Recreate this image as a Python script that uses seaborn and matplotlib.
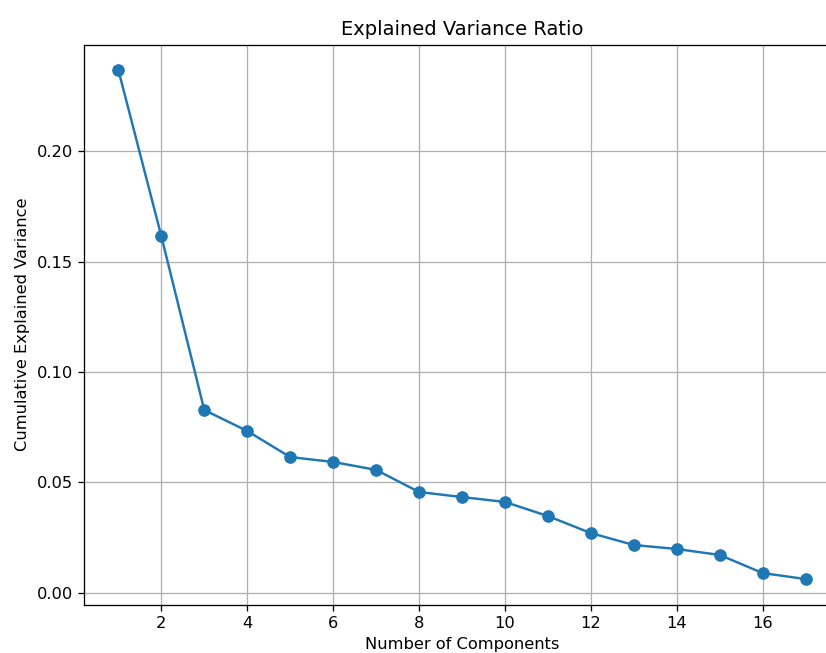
import matplotlib
matplotlib.use("Agg")
import matplotlib.pyplot as plt
import seaborn as sns

# explained variance ratio per principal component
components = list(range(1, 18))
variance_ratio = [0.2367, 0.1615, 0.0828, 0.0733, 0.0615, 0.0593, 0.0557,
                  0.0457, 0.0434, 0.0412, 0.0348, 0.0271, 0.0217, 0.0199,
                  0.0172, 0.0090, 0.0063]
xticks = [2, 4, 6, 8, 10, 12, 14, 16]

# the reference looks like a default matplotlib figure rendered at ~117 dpi
dpi = 117
fig = plt.figure(figsize=(826 / dpi, 653 / dpi), dpi=dpi)
ax = fig.add_axes([84 / 826, 48.5 / 653, 756 / 826, 560 / 653])

sns.lineplot(x=components, y=variance_ratio, marker='o', color='#1f77b4',
             markersize=7, markeredgecolor='#1f77b4', linewidth=1.5, ax=ax)

ax.set_xticks(xticks)
ax.set_title('Explained Variance Ratio')
ax.set_xlabel('Number of Components')
ax.set_ylabel('Cumulative Explained Variance')
ax.grid(True)

fig.savefig('out.png', dpi=dpi)
